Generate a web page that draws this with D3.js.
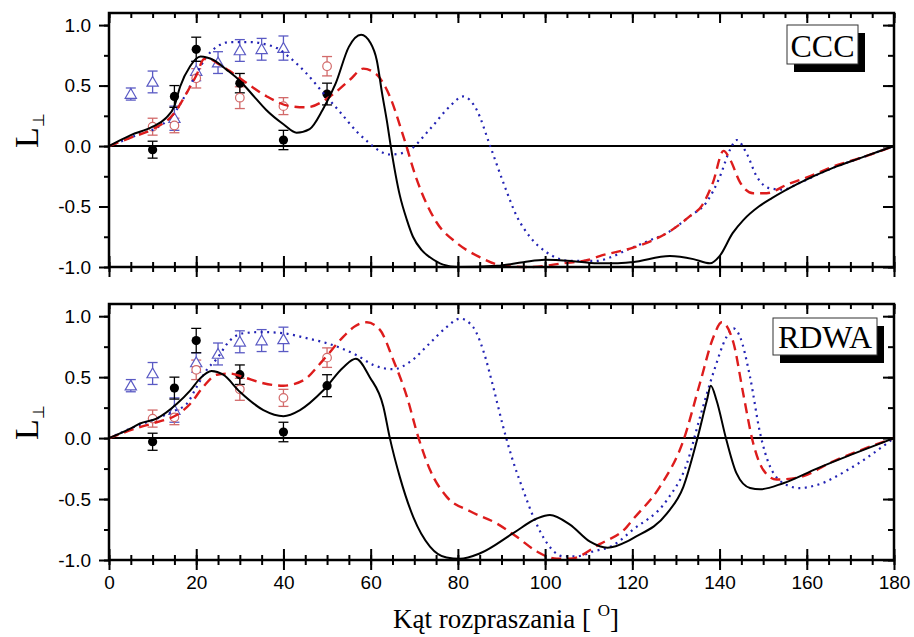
<!DOCTYPE html>
<html>
<head>
<meta charset="utf-8">
<script src="https://cdn.jsdelivr.net/npm/d3@7"></script>
<style>
body{margin:0;background:#fff;}
svg{display:block;}
.tick text{font-family:"Liberation Sans",Arial,sans-serif;font-size:19px;fill:#000;}
.tick line{stroke:#000;stroke-width:2;}
</style>
</head>
<body>
<svg id="chart" width="914" height="637"></svg>
<script>
// experimental points (same in both panels)
var expX = [10, 15, 20, 30, 40, 50];
var blackY = [-0.03, 0.41, 0.80, 0.52, 0.05, 0.43];
var blackErr = [0.07, 0.09, 0.10, 0.08, 0.08, 0.09];
var redY = [0.16, 0.17, 0.56, 0.40, 0.33, 0.66];
var redErr = [0.07, 0.06, 0.08, 0.09, 0.07, 0.08];
var blueX = [5, 10, 15, 20, 25, 30, 35, 40];
var blueY = [0.43, 0.53, 0.23, 0.62, 0.69, 0.79, 0.80, 0.81];
var blueErr = [0.05, 0.09, 0.10, 0.08, 0.09, 0.09, 0.09, 0.10];

// theory curves, CCC panel
var cccSolid = [[0,0],[5,0.09],[10,0.16],[13,0.23],[15,0.33],[16.3,0.49],[18.6,0.66],[21,0.74],[24,0.71],[27,0.63],[30,0.54],[33,0.42],[36,0.30],[40,0.18],[43,0.11],[46,0.14],[49,0.30],[52,0.52],[55,0.82],[57.8,0.92],[60,0.85],[61.4,0.71],[62.6,0.44],[63.8,0.19],[64.6,0],[66.7,-0.41],[68.3,-0.61],[69.7,-0.75],[71.7,-0.86],[73.6,-0.92],[76.6,-0.98],[80,-1.0],[89,-0.99],[95,-0.96],[100,-0.94],[106,-0.95],[112,-0.97],[116,-0.97],[120,-0.96],[128.6,-0.91],[134,-0.935],[137.8,-0.97],[140,-0.91],[143,-0.72],[145.5,-0.61],[149,-0.5],[152,-0.43],[158,-0.31],[166,-0.18],[173,-0.09],[180,0]];
var cccDash = [[0,0],[5,0.07],[10,0.14],[14.7,0.26],[18.6,0.49],[20.1,0.59],[21.8,0.72],[23,0.72],[25,0.68],[27.7,0.62],[31.6,0.52],[36.2,0.41],[41.5,0.33],[45.3,0.32],[50.7,0.41],[55.3,0.55],[58.3,0.64],[61.4,0.59],[64.4,0.41],[67.5,0.08],[70.6,-0.28],[75.1,-0.63],[79.7,-0.80],[85.1,-0.92],[90.4,-0.99],[96.5,-1.0],[104,-0.97],[110,-0.94],[112.5,-0.91],[120.2,-0.84],[124,-0.79],[127.9,-0.72],[133.2,-0.58],[136,-0.49],[138.5,-0.30],[140.9,-0.04],[142.4,-0.11],[144.7,-0.30],[147.7,-0.39],[150.8,-0.39],[155.4,-0.32],[160,-0.26],[166,-0.17],[173,-0.09],[180,0]];
var cccDot = [[0,0],[5,0.07],[7.1,0.10],[10.9,0.15],[14.7,0.26],[17.8,0.44],[20.1,0.60],[22.4,0.74],[24.7,0.82],[27.7,0.86],[32.3,0.86],[36,0.84],[38.5,0.81],[41.5,0.73],[45.3,0.60],[49.1,0.44],[53,0.28],[56.8,0.12],[59.5,0.03],[62,-0.04],[64.4,-0.07],[67,-0.06],[69,-0.03],[73.6,0.14],[78.2,0.33],[81.2,0.41],[84.3,0.30],[87.4,0],[90.4,-0.30],[93.5,-0.58],[96.5,-0.75],[100.4,-0.88],[105.7,-0.95],[111.8,-0.95],[115,-0.92],[118.7,-0.86],[124,-0.78],[127.9,-0.72],[133.2,-0.58],[137.1,-0.46],[140,-0.26],[142.4,-0.03],[143.9,0.05],[146.2,-0.06],[148.5,-0.25],[151.6,-0.35],[154.6,-0.36],[158,-0.31],[166,-0.18],[173,-0.09],[180,0]];

// theory curves, RDWA panel
var rdwaSolid = [[0,0],[5,0.08],[7.1,0.12],[10.9,0.16],[15.5,0.28],[18.6,0.39],[20.9,0.49],[23.5,0.55],[26.2,0.52],[30,0.38],[35.4,0.23],[40,0.18],[43.8,0.23],[49.1,0.39],[53.7,0.58],[56.6,0.65],[59.8,0.50],[62.9,0.26],[64.4,0],[66.7,-0.32],[69.8,-0.65],[73.6,-0.89],[77.4,-0.98],[80.4,-0.99],[85.1,-0.945],[92.7,-0.78],[98.1,-0.66],[101.1,-0.63],[105.7,-0.71],[110.3,-0.85],[114.3,-0.90],[118.7,-0.85],[120.2,-0.82],[127.9,-0.62],[131.7,-0.40],[134.8,-0.02],[137.1,0.31],[138,0.43],[139.3,0.31],[141.6,-0.02],[143.9,-0.29],[147,-0.41],[149.3,-0.42],[154.6,-0.37],[162.3,-0.25],[169.9,-0.14],[180,0]];
var rdwaDash = [[0,0],[7.1,0.09],[10.9,0.13],[15.5,0.19],[18.6,0.28],[21.6,0.42],[24.7,0.52],[27.7,0.53],[30.8,0.50],[35.4,0.45],[40,0.43],[44.6,0.475],[49.1,0.64],[53.7,0.83],[56.5,0.92],[59.1,0.95],[62.1,0.89],[65.2,0.64],[68.3,0.34],[70.9,0.01],[73.6,-0.26],[77.4,-0.48],[82.8,-0.60],[88.9,-0.70],[93.5,-0.81],[98.1,-0.93],[102.7,-0.99],[105.7,-0.99],[112.5,-0.87],[118.7,-0.73],[120.2,-0.665],[126.3,-0.40],[131.7,-0.02],[135.5,0.45],[138.6,0.83],[140.5,0.95],[143.2,0.78],[145.4,0.37],[147.7,-0.04],[150,-0.26],[153.1,-0.34],[158.4,-0.32],[166.1,-0.19],[173,-0.09],[180,0]];
var rdwaDot = [[0,0],[7.1,0.11],[10.9,0.16],[14.7,0.22],[17.8,0.28],[20.1,0.42],[22.4,0.56],[24.7,0.65],[27.7,0.80],[30.8,0.86],[35,0.87],[40,0.86],[45.3,0.82],[50.7,0.77],[56.8,0.68],[60.6,0.60],[65.2,0.565],[69,0.625],[73.6,0.78],[77.4,0.91],[80.5,0.98],[83.5,0.91],[85.8,0.72],[88.1,0.42],[90.4,0.09],[92.3,-0.15],[95,-0.43],[97.3,-0.645],[100.4,-0.86],[104.2,-0.97],[107.2,-0.97],[111,-0.93],[115.3,-0.885],[120.2,-0.75],[127.9,-0.51],[132.5,-0.21],[135.5,0.17],[138.8,0.56],[141.6,0.83],[143.2,0.90],[144.7,0.83],[147,0.50],[149.3,0.04],[151.6,-0.235],[155.4,-0.385],[158.4,-0.41],[162.3,-0.385],[169.9,-0.25],[180,0]];

var xMajor = [0, 20, 40, 60, 80, 100, 120, 140, 160, 180];
var xMinor = d3.range(0, 181, 5);
var yMajor = [-1.0, -0.5, 0.0, 0.5, 1.0];
var yMinor = [-1.0, -0.75, -0.5, -0.25, 0, 0.25, 0.5, 0.75, 1.0];

var svg = d3.select('#chart');
var x = d3.scaleLinear().domain([0, 180]).range([109, 894]);
var yTop = d3.scaleLinear().domain([-1, 1.1]).range([267, 13]);
var yBot = d3.scaleLinear().domain([-1, 1.1]).range([560, 304]);

var red = '#dd1c1c', blue = '#2323b4';
var redPt = '#d26a6a', bluePt = '#5a5ac4';

function addAxis(gen, tx, ty){
	var g = svg.append('g').attr('transform', `translate(${tx}, ${ty})`).call(gen);
	g.select('.domain').remove();
	return g;
}

function drawPanel(y, curves, label, box, showLabels){
	var x0 = x.range()[0], x1 = x.range()[1];
	var yb = y.range()[0], yt = y.range()[1];

	// experimental data with error bars
	var pts = svg.append('g');
	function errBars(xs, ys, es, col){
		xs.forEach(function(v, i){
			var cx = x(v);
			pts.append('line').attr('x1', cx).attr('x2', cx)
				.attr('y1', y(ys[i] - es[i])).attr('y2', y(ys[i] + es[i]))
				.attr('stroke', col).attr('stroke-width', 1.3);
			[ys[i] - es[i], ys[i] + es[i]].forEach(function(e){
				pts.append('line').attr('x1', cx - 5).attr('x2', cx + 5)
					.attr('y1', y(e)).attr('y2', y(e))
					.attr('stroke', col).attr('stroke-width', 1.3);
			});
		});
	}
	errBars(blueX, blueY, blueErr, bluePt);
	errBars(expX, redY, redErr, redPt);
	errBars(expX, blackY, blackErr, '#000');
	blueX.forEach(function(v, i){
		pts.append('path')
			.attr('d', d3.symbol().type(d3.symbolTriangle).size(55)())
			.attr('transform', `translate(${x(v)}, ${y(blueY[i]) + 1})`)
			.attr('fill', 'white').attr('stroke', bluePt).attr('stroke-width', 1.2);
	});
	expX.forEach(function(v, i){
		pts.append('circle').attr('cx', x(v)).attr('cy', y(redY[i])).attr('r', 4.3)
			.attr('fill', 'white').attr('stroke', redPt).attr('stroke-width', 1.2);
		pts.append('circle').attr('cx', x(v)).attr('cy', y(blackY[i])).attr('r', 4.6)
			.attr('fill', '#000');
	});

	// zero line
	svg.append('line').attr('x1', x0).attr('x2', x1).attr('y1', y(0)).attr('y2', y(0))
		.attr('stroke', '#000').attr('stroke-width', 2);

	var line = d3.line().x(d => x(d[0])).y(d => y(d[1])).curve(d3.curveMonotoneX);
	svg.append('path').attr('d', line(curves[2])).attr('fill', 'none')
		.attr('stroke', blue).attr('stroke-width', 2.2).attr('stroke-dasharray', '2,4.5');
	svg.append('path').attr('d', line(curves[1])).attr('fill', 'none')
		.attr('stroke', red).attr('stroke-width', 2.4).attr('stroke-dasharray', '10,6');
	svg.append('path').attr('d', line(curves[0])).attr('fill', 'none')
		.attr('stroke', '#000').attr('stroke-width', 2);

	// ticks
	addAxis(d3.axisBottom(x).tickValues(xMajor).tickSize(10).tickPadding(6)
		.tickFormat(showLabels ? d3.format('d') : ''), 0, yb);
	addAxis(d3.axisBottom(x).tickValues(xMinor).tickSize(5).tickFormat(''), 0, yb);
	addAxis(d3.axisTop(x).tickValues(xMajor).tickSize(11).tickFormat(''), 0, yb);
	addAxis(d3.axisTop(x).tickValues(xMinor).tickSize(5).tickFormat(''), 0, yb);
	addAxis(d3.axisBottom(x).tickValues(xMajor).tickSize(10).tickFormat(''), 0, yt);
	addAxis(d3.axisBottom(x).tickValues(xMinor).tickSize(5).tickFormat(''), 0, yt);
	addAxis(d3.axisLeft(y).tickValues(yMajor).tickSize(10).tickPadding(8)
		.tickFormat(d => d.toFixed(1)), x0, 0);
	addAxis(d3.axisLeft(y).tickValues(yMinor).tickSize(5).tickFormat(''), x0, 0);
	addAxis(d3.axisLeft(y).tickValues(yMajor).tickSize(11).tickFormat(''), x1, 0);
	addAxis(d3.axisLeft(y).tickValues(yMinor).tickSize(6).tickFormat(''), x1, 0);

	// frame
	svg.append('rect').attr('x', x0).attr('y', yt).attr('width', x1 - x0).attr('height', yb - yt)
		.attr('fill', 'none').attr('stroke', '#000').attr('stroke-width', 2.5);

	// model label box
	svg.append('rect').attr('x', box[0] + 7).attr('y', box[1] + 8).attr('width', box[2]).attr('height', box[3])
		.attr('fill', '#000');
	svg.append('rect').attr('x', box[0]).attr('y', box[1]).attr('width', box[2]).attr('height', box[3])
		.attr('fill', '#fff').attr('stroke', '#333').attr('stroke-width', 1);
	svg.append('text').attr('x', box[0] + box[2] / 2).attr('y', box[1] + box[3] - 7)
		.attr('text-anchor', 'middle')
		.style('font-family', '"Liberation Serif", "Times New Roman", serif')
		.style('font-size', '32px').text(label);

	// y label L with perpendicular subscript
	var ly = y(0) + 2;
	var t = svg.append('text').attr('transform', `translate(38, ${ly}) rotate(-90)`)
		.style('font-family', '"Liberation Serif", "Times New Roman", serif')
		.style('font-size', '34px');
	t.append('tspan').text('L');
	t.append('tspan').attr('dy', 6).style('font-size', '16px').text('\u22A5');
}

drawPanel(yTop, [cccSolid, cccDash, cccDot], 'CCC', [787, 25, 71, 39], false);
drawPanel(yBot, [rdwaSolid, rdwaDash, rdwaDot], 'RDWA', [773, 318, 104, 37], true);

// x axis title
var xt = svg.append('text').attr('x', 506).attr('y', 628).attr('text-anchor', 'middle')
	.style('font-family', '"Liberation Serif", "Times New Roman", serif')
	.style('font-size', '27px');
xt.append('tspan').text('K\u0105t rozpraszania [ ');
xt.append('tspan').attr('dy', -12).style('font-size', '17px').text('O');
xt.append('tspan').attr('dy', 12).text(']');
</script>
</body>
</html>
